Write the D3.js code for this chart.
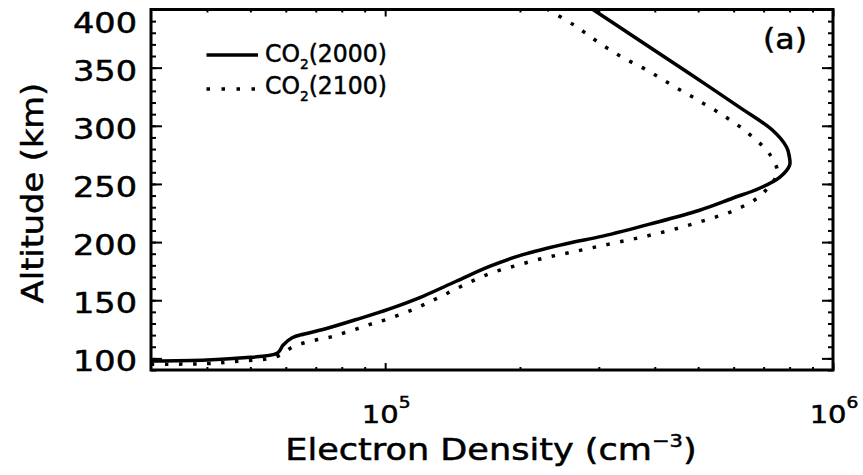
<!DOCTYPE html>
<html>
<head>
<meta charset="utf-8">
<script src="https://cdn.jsdelivr.net/npm/d3@7"></script>
<style>
  body { margin: 0; background: #fff; }
  svg text { font-family: "DejaVu Sans", sans-serif; fill: #000; stroke: #000; stroke-width: 0.5; }
</style>
</head>
<body>
<div id="chart"></div>
<script>
// altitude (km) and electron density (cm^-3)
var altSolid = [97.7, 98.6, 100.3, 104.6, 111.5, 117.7, 121.0, 124.8, 133.4, 142.6, 153.4, 166.3, 179.1,
  189.2, 198.6, 205.1, 215.4, 227.4, 237.7, 246.3, 255.7, 266.0, 272.0, 281.5, 296.1,
  315.8, 345.0, 373.4, 400];
var neSolid = [3.0e4, 4.0e4, 4.73e4, 5.75e4, 5.92e4, 6.2e4, 6.6e4, 7.26e4, 8.62e4, 1.023e5, 1.214e5, 1.441e5, 1.71e5,
  2.03e5, 2.537e5, 3.06e5, 3.894e5, 5.035e5, 5.965e5, 6.855e5, 7.6e5, 8.0e5, 8.0e5, 7.88e5, 7.33e5,
  6.19e5, 4.78e5, 3.70e5, 2.91e5];

var altDotted = [95.0, 95.5, 97.7, 99.5, 102.5, 109.1, 113.4, 116.2, 118.5, 122.0, 126.2, 130.0, 133.4, 142.0,
  152.0, 162.6, 172.9, 179.8, 186.4, 191.3, 196.5, 201.6, 205.9, 211.9, 218.8, 226.5, 237.7, 248.0, 259.2,
  268.6, 278.9, 296.1, 309.8, 322.7, 334.7, 347.6, 358.8, 371.7, 386.3, 400];
var neDotted = [3.0e4, 4.0e4, 4.73e4, 5.43e4, 5.81e4, 6.17e4, 6.6e4, 7.07e4, 7.58e4, 8.11e4, 8.77e4, 9.38e4, 1.005e5, 1.153e5,
  1.311e5, 1.491e5, 1.71e5, 1.962e5, 2.27e5, 2.608e5, 3.011e5, 3.477e5, 3.904e5, 4.51e5, 5.18e5, 5.95e5, 6.77e5, 7.2e5, 7.52e5,
  7.4e5, 7.11e5, 6.35e5, 5.64e5, 4.96e5, 4.38e5, 3.854e5, 3.39e5, 2.996e5, 2.648e5, 2.305e5];

var seriesNames = ["2000", "2100"];
var yTickLabels = [100, 150, 200, 250, 300, 350, 400];
var yMinorTicks = d3.range(90, 401, 10);
var xMajorTicks = [1e5, 1e6];
var xExponents = ["5", "6"];
var xMinorTicks = [4e4, 5e4, 6e4, 7e4, 8e4, 9e4, 2e5, 3e5, 4e5, 5e5, 6e5, 7e5, 8e5, 9e5];

(function () {
  var width = 863, height = 475;
  var left = 151, right = 833, top = 9.5, bottom = 370;

  var svg = d3.select("#chart").append("svg")
    .attr("width", width)
    .attr("height", height);

  var x = d3.scaleLog().domain([3e4, 1e6]).range([left, right]);
  var y = d3.scaleLinear().domain([90, 400]).range([bottom, top]);

  //______ tick marks on all four sides, pointing inwards ______
  function ticks(axis, tr) {
    var g = svg.append("g").attr("transform", tr).call(axis.tickFormat(""));
    g.select(".domain").remove();
    g.selectAll("line").attr("stroke", "#000").attr("stroke-width", 2);
  }
  ticks(d3.axisBottom(x).tickValues(xMinorTicks).tickSize(-3), "translate(0," + bottom + ")");
  ticks(d3.axisBottom(x).tickValues(xMajorTicks).tickSize(-7), "translate(0," + bottom + ")");
  ticks(d3.axisTop(x).tickValues(xMinorTicks).tickSize(-3), "translate(0," + top + ")");
  ticks(d3.axisTop(x).tickValues(xMajorTicks).tickSize(-7), "translate(0," + top + ")");
  ticks(d3.axisLeft(y).tickValues(yMinorTicks).tickSize(-5), "translate(" + left + ",0)");
  ticks(d3.axisLeft(y).tickValues(yTickLabels).tickSize(-11), "translate(" + left + ",0)");
  ticks(d3.axisRight(y).tickValues(yMinorTicks).tickSize(-5), "translate(" + right + ",0)");
  ticks(d3.axisRight(y).tickValues(yTickLabels).tickSize(-11), "translate(" + right + ",0)");

  // frame
  svg.append("rect")
    .attr("x", left).attr("y", top)
    .attr("width", right - left).attr("height", bottom - top)
    .attr("fill", "none").attr("stroke", "#000").attr("stroke-width", 3);

  //______ curves ______
  svg.append("clipPath").attr("id", "plotclip")
    .append("rect").attr("x", left).attr("y", top)
    .attr("width", right - left).attr("height", bottom - top);

  var line = d3.line()
    .x(function (d) { return x(d[1]); })
    .y(function (d) { return y(d[0]); })
    .curve(d3.curveCatmullRom.alpha(0.5));

  svg.append("path")
    .datum(d3.zip(altSolid, neSolid))
    .attr("clip-path", "url(#plotclip)")
    .attr("d", line)
    .attr("fill", "none").attr("stroke", "#000").attr("stroke-width", 3.5);

  svg.append("path")
    .datum(d3.zip(altDotted, neDotted))
    .attr("clip-path", "url(#plotclip)")
    .attr("d", line)
    .attr("fill", "none").attr("stroke", "#000").attr("stroke-width", 3.5)
    .attr("stroke-dasharray", "3.5,10.5");

  //______ text ______
  // y tick labels
  yTickLabels.forEach(function (v) {
    var cy = Math.max(y(v) + 3, 23);
    svg.append("text")
      .attr("transform", "translate(137," + (cy + 10) + ") scale(1.22,1)")
      .attr("text-anchor", "end")
      .style("font-size", "27.5px")
      .text(v);
  });

  // x tick labels 10^n
  xMajorTicks.forEach(function (v, i) {
    var t = svg.append("text")
      .attr("transform", "translate(" + (x(v) + 1) + ",423) scale(1.16,1)")
      .attr("text-anchor", "middle")
      .style("font-size", "25px");
    t.append("tspan").text("10");
    t.append("tspan").attr("dy", -15).style("font-size", "16px").text(xExponents[i]);
  });

  // x title
  var xt = svg.append("text")
    .attr("transform", "translate(491,460) scale(1.17,1)")
    .attr("text-anchor", "middle")
    .style("font-size", "30px");
  xt.append("tspan").text("Electron Density (cm");
  xt.append("tspan").attr("dy", -13).style("font-size", "18px").text("\u22123");
  xt.append("tspan").attr("dy", 13).text(")");

  // y title
  svg.append("text")
    .attr("transform", "translate(43,193) rotate(-90) scale(1.12,1)")
    .attr("text-anchor", "middle")
    .style("font-size", "30px")
    .text("Altitude (km)");

  // panel label
  svg.append("text")
    .attr("transform", "translate(785,49) scale(1.13,1)")
    .attr("text-anchor", "middle")
    .style("font-size", "28px")
    .text("(a)");

  //______ legend ______
  var legendY = [55, 89];
  var textY = [62, 94];
  seriesNames.forEach(function (name, i) {
    var l = svg.append("line")
      .attr("x1", 206.5).attr("x2", 258)
      .attr("y1", legendY[i]).attr("y2", legendY[i])
      .attr("stroke", "#000").attr("stroke-width", 3.5);
    if (i === 1) l.attr("stroke-dasharray", "3.5,11.5");
    var t = svg.append("text")
      .attr("transform", "translate(265," + textY[i] + ") scale(0.98,1)")
      .style("font-size", "24px");
    t.append("tspan").text("CO");
    t.append("tspan").attr("dy", 7).style("font-size", "14px").text("2");
    t.append("tspan").attr("dy", -7).text("(" + name + ")");
  });
})();
</script>
</body>
</html>
